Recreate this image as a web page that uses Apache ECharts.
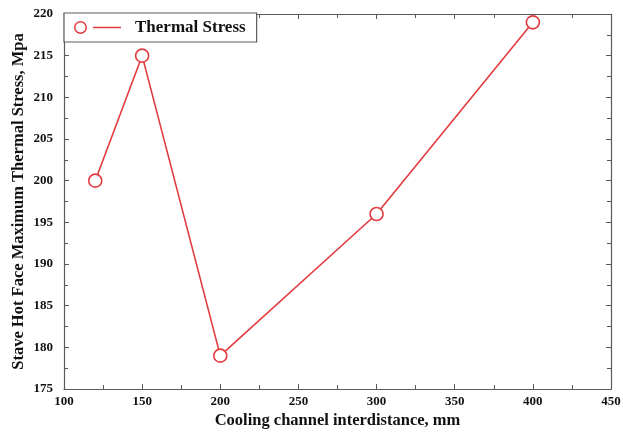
<!DOCTYPE html>
<html>
<head>
<meta charset="utf-8">
<script src="https://cdn.jsdelivr.net/npm/echarts@6/dist/echarts.min.js"></script>
<style>
  html, body { margin: 0; padding: 0; background: #fff; }
  #chart { width: 623px; height: 432px; }
</style>
</head>
<body>
<div id="chart"></div>
<script>
// Channel spacing (mm) and resulting peak thermal stress on the hot face (MPa)
const interdistance = [120, 150, 200, 300, 400];
const thermalStress = [200, 215, 179, 196, 219];
const seriesName = 'Thermal Stress';
const xTitle = 'Cooling channel interdistance, mm';
const yTitle = 'Stave Hot Face Maximum Thermal Stress, Mpa';

const RED = '#e23b3f';
const AXIS = '#5a5a5a';
const FONT = '"Liberation Serif", "Times New Roman", serif';

const pairs = interdistance.map((x, i) => [x, thermalStress[i]]);

// Legend glyph: a ring followed by a short dash
const legendIcon = 'path://M0,6.5 A6.5,6.5 0 1,1 13,6.5 A6.5,6.5 0 1,1 0,6.5 Z ' +
  'M1.5,6.5 A5,5 0 1,0 11.5,6.5 A5,5 0 1,0 1.5,6.5 Z ' +
  'M19,5.8 L47,5.8 L47,7.2 L19,7.2 Z';

const tickCommon = {
  axisLine: { show: true, onZero: false, lineStyle: { color: AXIS, width: 1.2 } },
  axisTick: { show: true, inside: true, length: 5, lineStyle: { color: AXIS } },
  minorTick: { show: true, splitNumber: 2, length: 4, lineStyle: { color: AXIS } },
  splitLine: { show: false }
};

const chart = echarts.init(document.getElementById('chart'), null, { renderer: 'canvas' });
chart.setOption({
  animation: false,
  backgroundColor: '#fff',
  grid: { left: 64, right: 12, top: 14, bottom: 43, containLabel: false, outerBoundsMode: 'none' },
  legend: {
    left: 64, top: 13,
    orient: 'horizontal',
    padding: [6, 11, 6, 10],
    itemWidth: 47, itemHeight: 13, itemGap: 10,
    icon: legendIcon,
    itemStyle: { color: RED, borderWidth: 0 },
    borderColor: AXIS, borderWidth: 1.2,
    backgroundColor: '#fff',
    textStyle: { fontFamily: FONT, fontWeight: 'bold', fontSize: 17, color: '#111', padding: [0, 0, 0, 9] },
    data: [seriesName]
  },
  xAxis: [
    Object.assign({
      type: 'value', min: 100, max: 450, interval: 50, position: 'bottom',
      name: xTitle, nameLocation: 'middle', nameGap: 23, nameMoveOverlap: false,
      nameTextStyle: { fontFamily: FONT, fontWeight: 'bold', fontSize: 16.5, color: '#111' },
      axisLabel: { fontFamily: FONT, fontWeight: 'bold', fontSize: 13, color: '#111', margin: 6 }
    }, tickCommon),
    Object.assign({
      type: 'value', min: 100, max: 450, interval: 50, position: 'top',
      axisLabel: { show: false }
    }, tickCommon)
  ],
  yAxis: [
    Object.assign({
      type: 'value', min: 175, max: 220, interval: 5, position: 'left',
      name: yTitle, nameLocation: 'middle', nameGap: 37, nameMoveOverlap: false,
      nameTextStyle: { fontFamily: FONT, fontWeight: 'bold', fontSize: 16.5, color: '#111' },
      axisLabel: { fontFamily: FONT, fontWeight: 'bold', fontSize: 13, color: '#111', margin: 11 }
    }, tickCommon),
    Object.assign({
      type: 'value', min: 175, max: 220, interval: 5, position: 'right',
      axisLabel: { show: false }
    }, tickCommon)
  ],
  series: [{
    name: seriesName,
    type: 'line',
    data: pairs,
    xAxisIndex: 0, yAxisIndex: 0,
    symbol: 'circle',
    symbolSize: 13,
    itemStyle: { color: '#fff', borderColor: RED, borderWidth: 1.6 },
    lineStyle: { color: RED, width: 1.6 },
    z: 3
  }]
});
</script>
</body>
</html>
